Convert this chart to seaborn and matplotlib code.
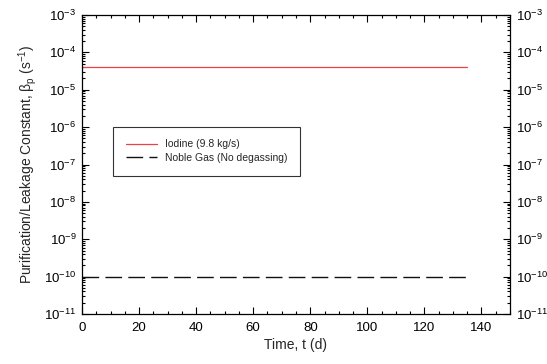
import matplotlib
matplotlib.use("Agg")
import matplotlib.pyplot as plt
import seaborn as sns
import numpy as np
import pandas as pd
from matplotlib.ticker import LogLocator, MultipleLocator, NullFormatter

sns.set_theme(style="white")
plt.rcParams['font.family'] = ['Liberation Sans', 'DejaVu Sans']
plt.rcParams['mathtext.fontset'] = 'custom'
plt.rcParams['mathtext.rm'] = 'Liberation Sans'
plt.rcParams['mathtext.it'] = 'Liberation Sans'

time_days = [0, 135]
iodine = [4.0e-5, 4.0e-5]
noble_gas = [1.0e-10, 1.0e-10]
series_names = ["Iodine (9.8 kg/s)", "Noble Gas (No degassing)"]

df = pd.concat([
    pd.DataFrame({"t": time_days, "beta": iodine, "series": series_names[0]}),
    pd.DataFrame({"t": time_days, "beta": noble_gas, "series": series_names[1]}),
])

fig = plt.figure(figsize=(5.47, 3.64), dpi=100)
ax = fig.add_axes([82/547, 1 - 314/364, (510-82)/547, (314-15)/364])

sns.lineplot(data=df[df.series == series_names[0]], x="t", y="beta", ax=ax,
             color="#ee4046", lw=0.9, label=series_names[0])
sns.lineplot(data=df[df.series == series_names[1]], x="t", y="beta", ax=ax,
             color="#111111", lw=1.0, label=series_names[1], dashes=False)
ax.lines[1].set_dashes([12, 4.5])
ax.lines[1].set_dash_capstyle("butt")

ax.set_yscale("log")
ax.set_xlim(0, 150)
ax.set_ylim(1e-11, 1e-3)
ax.xaxis.set_major_locator(MultipleLocator(20))
ax.xaxis.set_minor_locator(MultipleLocator(5))
ax.yaxis.set_major_locator(LogLocator(base=10, numticks=20))
ax.yaxis.set_minor_locator(LogLocator(base=10, subs=np.arange(2, 10), numticks=100))
ax.yaxis.set_minor_formatter(NullFormatter())

ax.tick_params(which="both", direction="in", bottom=True, left=True, top=True, right=True,
               labelright=True, labelsize=9.5, colors="black", width=0.8)
ax.tick_params(which="major", length=5, pad=4)
ax.tick_params(which="minor", length=2.5)
ax.tick_params(axis="x", which="major", pad=6)
for s in ax.spines.values():
    s.set_color("black")
    s.set_linewidth(0.9)

ax.set_xlabel("Time, t (d)", fontsize=10, labelpad=3)
ax.set_ylabel(r"Purification/Leakage Constant, $\beta_{\rm p}$ (s$^{-1}$)", fontsize=10, labelpad=4)

leg = ax.legend(loc="upper left", bbox_to_anchor=((113-82)/428, 1 - (127-15)/299),
                fontsize=7.5, frameon=True, fancybox=False, edgecolor="black",
                borderpad=1.2, handlelength=3.0, labelspacing=0.35, borderaxespad=0)
leg.get_frame().set_linewidth(0.8)

fig.savefig("out.png", dpi=100)
